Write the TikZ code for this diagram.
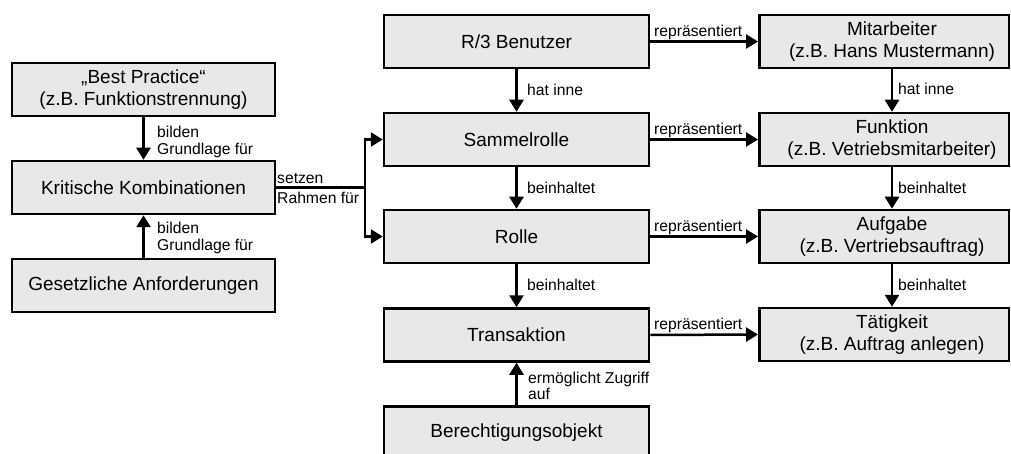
\documentclass[tikz,border=0pt]{standalone}
\usepackage{fontspec}
\setmainfont{Liberation Sans}
\usetikzlibrary{arrows.meta}
\definecolor{boxgray}{RGB}{232,232,232}
\begin{document}
\begin{tikzpicture}[x=1pt,y=-1pt,
  box/.style={draw=black, line width=2.5pt, fill=boxgray, inner sep=0pt,
    minimum height=53pt, align=center, font=\fontsize{19}{22}\selectfont},
  lbox/.style={box, minimum width=263pt},
  mbox/.style={box, minimum width=265pt},
  rbox/.style={box, minimum width=249.5pt},
  rtxt/.style={inner sep=0pt, align=center, font=\fontsize{19}{22}\selectfont},
  lbl/.style={inner sep=0pt, align=left, font=\fontsize{15.7}{17}\selectfont},
  conn/.style={line width=2.5pt, line join=miter},
  arr/.style={conn, -{Triangle[length=12pt,width=14pt]}}]

\useasboundingbox (0,0) rectangle (1011,454);
\clip (0,0) rectangle (1011,454);

% left column
\node[lbox] (bp) at (143.5,89.5) {„Best Practice“\\(z.B. Funktionstrennung)};
\node[lbox] (kk) at (143.5,187.5) {Kritische Kombinationen};
\node[lbox] (ga) at (143.5,285.5) {Gesetzliche Anforderungen};

% middle column
\node[mbox] (r3)  at (516.5,41.5)  {R/3 Benutzer};
\node[mbox] (sam) at (516.5,139.5) {Sammelrolle};
\node[mbox] (rol) at (516.5,236.5) {Rolle};
\node[mbox] (tra) at (516.5,335)   {Transaktion};
\node[mbox] (ber) at (516.5,433)   {Berechtigungsobjekt};

% right column
\node[rbox] (mit) at (884,41.5)  {};
\node[rbox] (fun) at (884,139.5) {};
\node[rbox] (auf) at (884,236.5) {};
\node[rbox] (tae) at (884,334.5) {};
\node[rtxt] (mitT) at ([xshift=8pt]mit.center) {Mitarbeiter\\(z.B. Hans Mustermann)};
\node[rtxt] (funT) at ([xshift=8pt]fun.center) {Funktion\\(z.B. Vetriebsmitarbeiter)};
\node[rtxt] (aufT) at ([xshift=8pt]auf.center) {Aufgabe\\(z.B. Vertriebsauftrag)};
\node[rtxt] (taeT) at ([xshift=8pt]tae.center) {Tätigkeit\\(z.B. Auftrag anlegen)};

% left column connectors
\draw[arr] (bp.south) -- (kk.north);
\draw[arr] (ga.north) -- (kk.south);
\node[lbl, anchor=north west] (l1) at (157,125.9) {bilden\\Grundlage für};
\node[lbl, anchor=north west] (l2) at (157,222.4) {bilden\\Grundlage für};

% branching connector to Sammelrolle and Rolle
\coordinate (split) at (365,187.5);
\draw[conn, line cap=rect] (kk.east) -- (split);
\draw[arr] (split) |- (sam.west);
\draw[arr] (split) |- (rol.west);
\node[lbl, anchor=north west] (l3) at (277,173) {setzen\\[3pt]Rahmen für};

% middle column connectors
\draw[arr] (r3.south) -- (sam.north);
\draw[arr] (sam.south) -- (rol.north);
\draw[arr] (rol.south) -- (tra.north);
\draw[arr] (ber.north) -- (tra.south);
\node[lbl, anchor=base west] (l4) at (527,95.5) {hat inne};
\node[lbl, anchor=base west] (l5) at (527,193.3) {beinhaltet};
\node[lbl, anchor=base west] (l6) at (527,290.7) {beinhaltet};
\node[lbl, anchor=north west, font=\fontsize{15.7}{16}\selectfont] (l7) at (528,372) {ermöglicht Zugriff\\auf};

% right column connectors
\draw[arr] (mit.south -| mitT.center) -- (fun.north -| mitT.center);
\draw[arr] (fun.south -| funT.center) -- (auf.north -| funT.center);
\draw[arr] (auf.south -| aufT.center) -- (tae.north -| aufT.center);
\node[lbl, anchor=base west] (l8) at (898,95) {hat inne};
\node[lbl, anchor=base west] (l9) at (898,193.3) {beinhaltet};
\node[lbl, anchor=base west] (l10) at (898,290.3) {beinhaltet};

% horizontal connectors between middle and right column
\draw[arr] (r3.east) -- (mit.west);
\draw[arr] (sam.east) -- (fun.west);
\draw[arr] (rol.east) -- (auf.west);
\draw[arr] (tra.east) -- (tae.west);
\node[lbl, anchor=south west] (r1) at (654,40)  {repräsentiert};
\node[lbl, anchor=south west] (r2) at (654,138) {repräsentiert};
\node[lbl, anchor=south west] (r3l) at (654,235) {repräsentiert};
\node[lbl, anchor=south west] (r4) at (654,333) {repräsentiert};
\end{tikzpicture}
\end{document}
